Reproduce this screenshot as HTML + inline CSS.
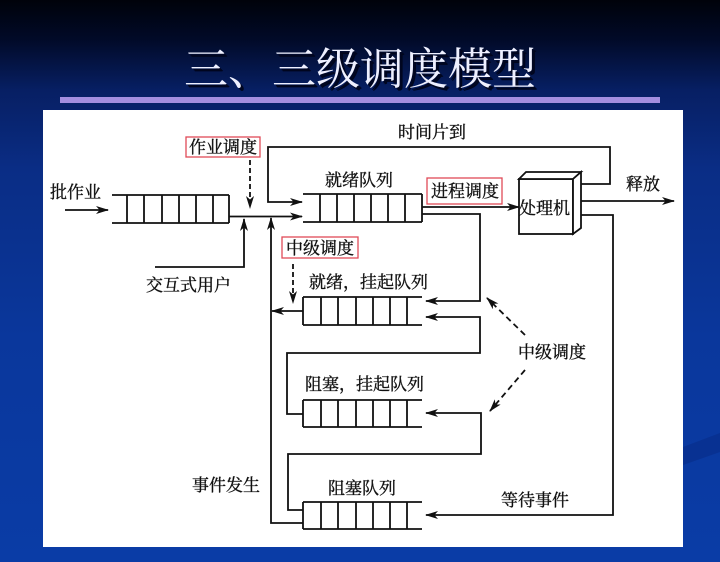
<!DOCTYPE html>
<html><head><meta charset="utf-8"><style>
html,body{margin:0;padding:0;width:720px;height:562px;overflow:hidden;background:#0a3aa0}
svg{display:block}
.t{font-family:"Liberation Serif","Noto Serif CJK SC",serif;font-size:17px;fill:#111;stroke:#111;stroke-width:0.35}
</style></head><body>
<svg width="720" height="562" viewBox="0 0 720 562" xmlns="http://www.w3.org/2000/svg">
<defs>
<linearGradient id="bg" x1="0" y1="0" x2="0" y2="1">
<stop offset="0" stop-color="#00020a"/>
<stop offset="0.07" stop-color="#010a28"/>
<stop offset="0.16" stop-color="#071f63"/>
<stop offset="0.3" stop-color="#0a2d85"/>
<stop offset="0.6" stop-color="#0a379c"/>
<stop offset="1" stop-color="#0a3ca6"/>
</linearGradient>
<marker id="a" markerWidth="14" markerHeight="10" refX="12" refY="4" orient="auto" markerUnits="userSpaceOnUse">
<path d="M0,0 L13,4 L0,8 L3.5,4 z" fill="#111"/>
</marker>
</defs>
<rect width="720" height="562" fill="url(#bg)"/>
<polygon points="683,447 720,433 720,452 683,465" fill="#08308e" opacity="0.8"/>
<!-- title -->
<text x="187" y="87" font-family="'Liberation Serif','Noto Serif CJK SC',serif" font-size="44" fill="#000418" opacity="0.9">三、三级调度模型</text>
<text x="186" y="86" font-family="'Liberation Serif','Noto Serif CJK SC',serif" font-size="44" fill="#000622">三、三级调度模型</text>
<text x="184" y="84" font-family="'Liberation Serif','Noto Serif CJK SC',serif" font-size="44" fill="#eef0ff">三、三级调度模型</text>
<rect x="60" y="97" width="600" height="6" fill="#a48fe0"/>
<!-- panel -->
<rect x="43" y="110" width="640" height="437" fill="#fff"/>

<g stroke="#111" stroke-width="1.8" fill="none">
<!-- job queue -->
<line x1="112" y1="195" x2="229" y2="195"/><line x1="112" y1="223" x2="229" y2="223"/>
<path d="M127,195V223M144,195V223M162,195V223M179,195V223M196,195V223M213,195V223M229,195V223"/>
<!-- ready queue -->
<line x1="303" y1="194" x2="422" y2="194"/><line x1="303" y1="222" x2="422" y2="222"/>
<path d="M320,194V222M337,194V222M354,194V222M371,194V222M388,194V222M405,194V222M422,194V222"/>
<!-- ready suspended -->
<line x1="303" y1="297" x2="422" y2="297"/><line x1="303" y1="325" x2="422" y2="325"/>
<path d="M303,297V325M321,297V325M338,297V325M356,297V325M373,297V325M390,297V325M407,297V325"/>
<!-- blocked suspended -->
<line x1="303" y1="400" x2="422" y2="400"/><line x1="303" y1="427" x2="422" y2="427"/>
<path d="M303,400V427M321,400V427M338,400V427M356,400V427M373,400V427M390,400V427M407,400V427"/>
<!-- blocked -->
<line x1="303" y1="502" x2="422" y2="502"/><line x1="303" y1="529" x2="422" y2="529"/>
<path d="M303,502V529M321,502V529M338,502V529M356,502V529M373,502V529M390,502V529M407,502V529"/>

<!-- processor box -->
<rect x="519" y="179" width="54" height="55" fill="#fff"/>
<path d="M519,179 L526,172 L581,172 L573,179 Z" fill="#fff"/>
<path d="M573,179 L581,172 L581,228 L573,234 Z" fill="#fff"/>

<!-- connectors -->
<line x1="65" y1="210" x2="108" y2="210" marker-end="url(#a)"/>
<line x1="229" y1="216.5" x2="302" y2="216.5" marker-end="url(#a)"/>
<polyline points="155,267 244,267 244,219" marker-end="url(#a)"/>
<polyline points="581,184 610,184 610,147 268,147 268,202 302,202" marker-end="url(#a)"/>
<line x1="422" y1="207" x2="519" y2="207" marker-end="url(#a)"/>
<polyline points="422,214 480,214 480,301 426,301" marker-end="url(#a)"/>
<polyline points="303,414 287,414 287,353 480,353 480,317 426,317" marker-end="url(#a)"/>
<line x1="303" y1="311" x2="272" y2="311" marker-end="url(#a)"/>
<polyline points="303,510 288,510 288,454 481,454 481,413 426,413" marker-end="url(#a)"/>
<polyline points="581,215 613,215 613,515 426,515" marker-end="url(#a)"/>
<polyline points="303,523 271,523 271,218" marker-end="url(#a)"/>
<line x1="581" y1="201" x2="674" y2="201" marker-end="url(#a)"/>
<!-- dashed -->
<line x1="250" y1="160" x2="250" y2="208" stroke-dasharray="5,3" marker-end="url(#a)"/>
<line x1="293" y1="264" x2="293" y2="303" stroke-dasharray="5,3" marker-end="url(#a)"/>
<line x1="525" y1="335" x2="487" y2="298" stroke-dasharray="6,4" marker-end="url(#a)"/>
<line x1="525" y1="370" x2="490" y2="411" stroke-dasharray="6,4" marker-end="url(#a)"/>
</g>

<!-- red boxes -->
<g stroke="#e04a58" stroke-width="1.3" fill="#fff">
<rect x="186" y="137" width="74" height="20"/>
<rect x="427" y="178" width="75" height="26"/>
<rect x="282" y="237" width="76" height="21"/>
</g>

<!-- labels -->
<text class="t" x="50" y="198">批作业</text>
<text class="t" x="189" y="153">作业调度</text>
<text class="t" x="398" y="138">时间片到</text>
<text class="t" x="325" y="186">就绪队列</text>
<text class="t" x="431" y="197">进程调度</text>
<text class="t" x="519" y="214">处理机</text>
<text class="t" x="626" y="190">释放</text>
<text class="t" x="286" y="254">中级调度</text>
<text class="t" x="146" y="291">交互式用户</text>
<text class="t" x="309" y="288">就绪，挂起队列</text>
<text class="t" x="518" y="358">中级调度</text>
<text class="t" x="305" y="390">阻塞，挂起队列</text>
<text class="t" x="192" y="491">事件发生</text>
<text class="t" x="328" y="494">阻塞队列</text>
<text class="t" x="501" y="506">等待事件</text>
</svg>
</body></html>
